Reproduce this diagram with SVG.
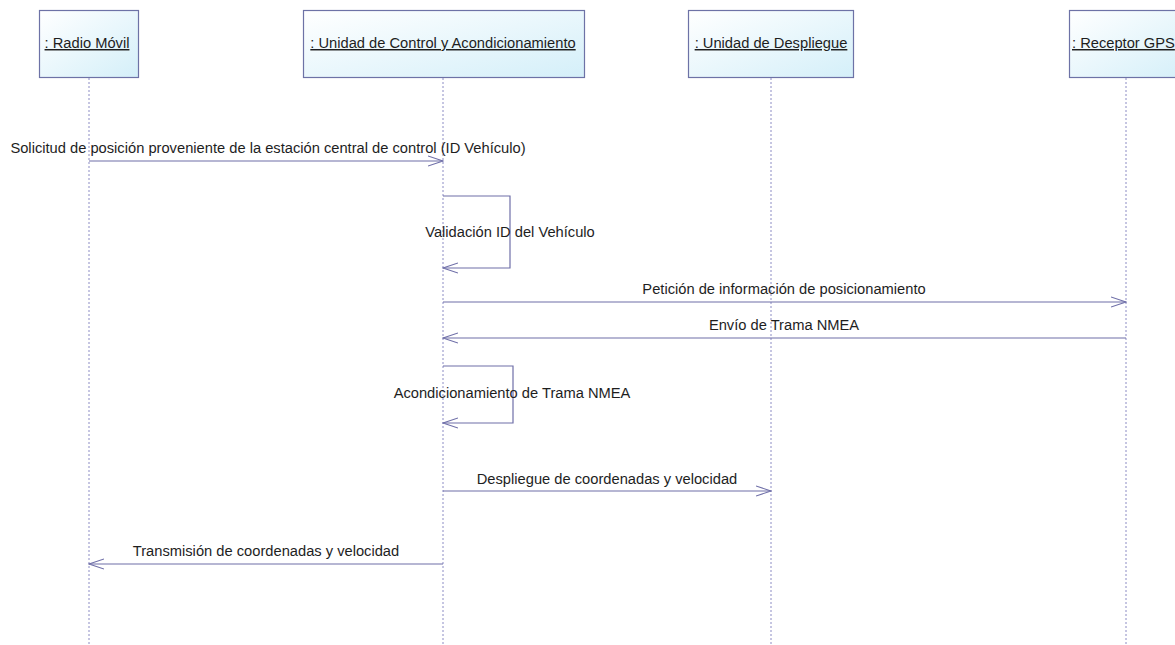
<svg xmlns="http://www.w3.org/2000/svg" width="1175" height="645" viewBox="0 0 1175 645">
  <defs>
    <linearGradient id="boxFill" x1="0" y1="0" x2="1" y2="1">
      <stop offset="0" stop-color="#ffffff"/>
      <stop offset="1" stop-color="#d4eff9"/>
    </linearGradient>
    <marker id="openArrow" viewBox="0 0 16 12" refX="15" refY="6" markerWidth="16" markerHeight="12" markerUnits="userSpaceOnUse" orient="auto">
      <path d="M0,1 L15,6 L0,11" fill="none" stroke="#6f6fa8" stroke-width="1.1"/>
    </marker>
  </defs>
  <style>
    .box { fill: url(#boxFill); stroke: #6d72a6; stroke-width: 1.2; }
    .life { stroke: #8c8cc4; stroke-width: 1; stroke-dasharray: 2 2; fill: none; }
    .msg { stroke: #6f6fa8; stroke-width: 1.2; fill: none; marker-end: url(#openArrow); }
    .name { font-family: "Liberation Sans", Arial, sans-serif; font-size: 14.7px; fill: #1e1e1e; text-decoration: underline; text-anchor: middle; }
    .lbl { font-family: "Liberation Sans", Arial, sans-serif; font-size: 14.7px; fill: #1e1e1e; text-anchor: middle; }
  </style>
  <rect width="1175" height="645" fill="#ffffff"/>

  <g id="radio-movil">
    <rect class="box" x="39.5" y="10.5" width="99" height="67"/>
    <line class="life" x1="89" y1="78" x2="89" y2="645"/>
    <text class="name" x="87" y="48">: Radio Móvil</text>
  </g>

  <g id="unidad-control">
    <rect class="box" x="303.5" y="10.5" width="281" height="67"/>
    <line class="life" x1="443" y1="78" x2="443" y2="645"/>
    <text class="name" x="443" y="48">: Unidad de Control y Acondicionamiento</text>
  </g>

  <g id="unidad-despliegue">
    <rect class="box" x="688.5" y="10.5" width="165" height="67"/>
    <line class="life" x1="771" y1="78" x2="771" y2="645"/>
    <text class="name" x="771" y="48">: Unidad de Despliegue</text>
  </g>

  <g id="receptor-gps">
    <rect class="box" x="1069.5" y="10.5" width="120" height="67"/>
    <line class="life" x1="1126" y1="78" x2="1126" y2="645"/>
    <text class="name" x="1072" y="48" style="text-anchor:start">: Receptor GPS</text>
  </g>

  <g id="connectors">
    <path class="msg" d="M89,161 H443"/>
    <path class="msg" d="M443,196 H510 V268 H443"/>
    <path class="msg" d="M443,302 H1126"/>
    <path class="msg" d="M1126,338 H443"/>
    <path class="msg" d="M443,366 H513 V423 H443"/>
    <path class="msg" d="M443,491 H771"/>
    <path class="msg" d="M443,564 H89"/>
  </g>

  <g id="labels">
    <text class="lbl" x="268" y="153">Solicitud de posición proveniente de la estación central de control (ID Vehículo)</text>
    <text class="lbl" x="510" y="237">Validación ID del Vehículo</text>
    <text class="lbl" x="784" y="294">Petición de información de posicionamiento</text>
    <text class="lbl" x="784" y="330">Envío de Trama NMEA</text>
    <text class="lbl" x="512" y="398">Acondicionamiento de Trama NMEA</text>
    <text class="lbl" x="607" y="484">Despliegue de coordenadas y velocidad</text>
    <text class="lbl" x="266" y="556">Transmisión de coordenadas y velocidad</text>
  </g>
</svg>
